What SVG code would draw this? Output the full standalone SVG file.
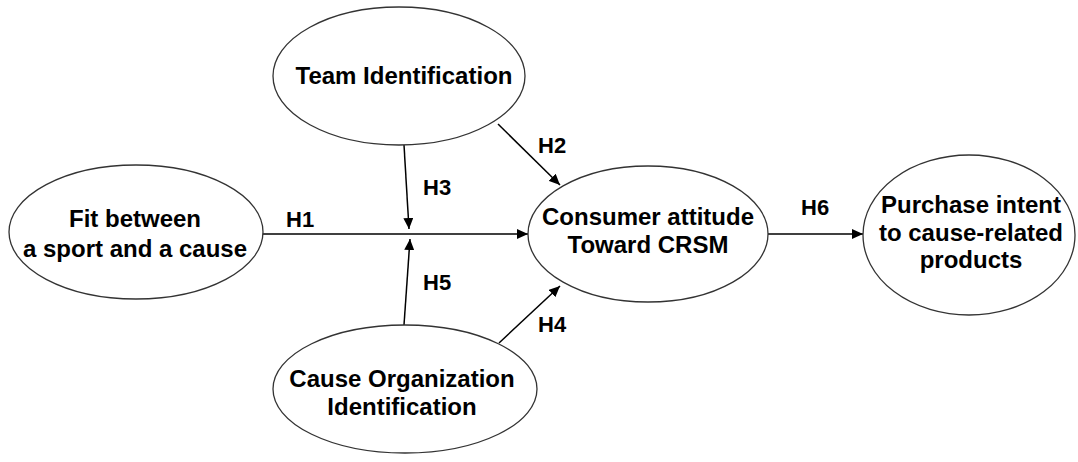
<svg xmlns="http://www.w3.org/2000/svg" width="1078" height="462" viewBox="0 0 1078 462">
  <defs>
    <marker id="arrow" markerUnits="userSpaceOnUse" markerWidth="12" markerHeight="10" refX="11" refY="5" orient="auto">
      <path d="M0,0 L11,5 L0,10 Z" fill="#000"/>
    </marker>
    <style>
      .node ellipse { fill: #fff; stroke: #333; stroke-width: 1.3; }
      .node text { font-family: "Liberation Sans", Arial, sans-serif; font-weight: bold; font-size: 24px; fill: #000; text-anchor: middle; }
      .edges line { stroke: #000; stroke-width: 1.5; marker-end: url(#arrow); }
      .labels text { font-family: "Liberation Sans", Arial, sans-serif; font-weight: bold; font-size: 22px; fill: #000; }
    </style>
  </defs>
  <rect width="1078" height="462" fill="#fff"/>

  <!-- connectors -->
  <g id="connectors" class="edges">
    <line x1="262" y1="234" x2="528" y2="234"/>
    <line x1="404" y1="145" x2="409" y2="229"/>
    <line x1="404" y1="325" x2="410" y2="239"/>
    <line x1="498" y1="124" x2="560" y2="185"/>
    <line x1="499" y1="343" x2="560" y2="286"/>
    <line x1="768" y1="234" x2="863" y2="234"/>
  </g>

  <!-- hypothesis labels -->
  <g id="labels" class="labels">
    <text x="286" y="227">H1</text>
    <text x="538" y="153">H2</text>
    <text x="423" y="195">H3</text>
    <text x="538" y="332">H4</text>
    <text x="423" y="290">H5</text>
    <text x="801" y="215">H6</text>
  </g>

  <!-- nodes -->
  <g id="team-identification" class="node">
    <ellipse cx="399" cy="76" rx="126" ry="69"/>
    <text x="404" y="84">Team Identification</text>
  </g>

  <g id="fit-sport-cause" class="node">
    <ellipse cx="136" cy="232" rx="127" ry="67"/>
    <text x="135" y="227">Fit between</text>
    <text x="135" y="257">a sport and a cause</text>
  </g>

  <g id="consumer-attitude" class="node">
    <ellipse cx="648" cy="234" rx="120" ry="68"/>
    <text x="648" y="225">Consumer attitude</text>
    <text x="648" y="253">Toward CRSM</text>
  </g>

  <g id="purchase-intent" class="node">
    <ellipse cx="969" cy="235" rx="106" ry="80"/>
    <text x="971" y="213">Purchase intent</text>
    <text x="971" y="241">to cause-related</text>
    <text x="971" y="268">products</text>
  </g>

  <g id="cause-organization-identification" class="node">
    <ellipse cx="405" cy="389" rx="132" ry="64"/>
    <text x="402" y="387">Cause Organization</text>
    <text x="402" y="415">Identification</text>
  </g>
</svg>
